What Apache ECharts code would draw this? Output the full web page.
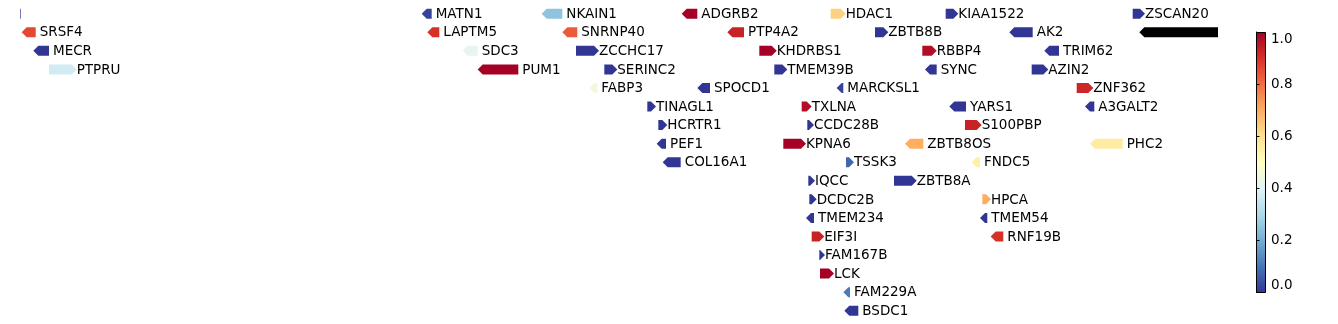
<!DOCTYPE html>
<html>
<head>
<meta charset="utf-8">
<script src="https://cdn.jsdelivr.net/npm/echarts@6/dist/echarts.min.js"></script>
<style>
html,body{margin:0;padding:0;background:#fff;}
#chart{width:1338px;height:324px;}
</style>
</head>
<body>
<div id="chart"></div>
<script>
// ---- data (positions in kb along the region) ----
const geneNames  = ['', 'MATN1','NKAIN1','ADGRB2','HDAC1','KIAA1522','ZSCAN20',
  'SRSF4','LAPTM5','SNRNP40','PTP4A2','ZBTB8B','AK2','',
  'MECR','SDC3','ZCCHC17','KHDRBS1','RBBP4','TRIM62',
  'PTPRU','PUM1','SERINC2','TMEM39B','SYNC','AZIN2',
  'FABP3','SPOCD1','MARCKSL1','ZNF362',
  'TINAGL1','TXLNA','YARS1','A3GALT2',
  'HCRTR1','CCDC28B','S100PBP',
  'PEF1','KPNA6','ZBTB8OS','PHC2',
  'COL16A1','TSSK3','FNDC5',
  'IQCC','ZBTB8A',
  'DCDC2B','HPCA',
  'TMEM234','TMEM54',
  'EIF3I','RNF19B',
  'FAM167B','LCK','FAM229A','BSDC1'];
const geneStart  = [-6, 401.7,521.7,661.7,810.7,925.7,1112.7,
  1.7,407.3,542.3,707.3,855,989.3,1119.3,
  13.3,442.7,556,739.3,902.3,1024.3,
  29,457.7,584.3,754.3,905,1011.7,
  569.3,677.3,816.7,1056.7,
  627.3,781.7,929.3,1065,
  638.3,787.3,945,
  636.7,763.3,885,1070,
  642.7,826,951.7,
  788.3,874,
  789.3,962.3,
  786,960,
  791.7,970.7,
  799.3,800,823.3,824.3];
const geneEnd    = [0.7, 411.7,542.3,677.3,825.7,938.3,1125,
  15.7,419.3,557.3,724,868.3,1012.7,1215,
  29,457.7,579,756.7,916.7,1039,
  56.7,498.3,597.3,767.3,916.7,1028.3,
  577.3,690,823.3,1073.3,
  636,791.7,946,1074.3,
  647.3,794,961.7,
  646,786,903.3,1102.7,
  660.7,834,960,
  795,896.7,
  796.7,971,
  794,967.3,
  804.3,983.3,
  805,814,830,838.3];
const geneStrand = [-1, -1,-1,-1,1,1,1,
  -1,-1,-1,-1,1,-1,-1,
  -1,-1,1,1,1,-1,
  1,-1,1,1,-1,1,
  -1,-1,-1,1,
  1,1,-1,-1,
  1,1,1,
  -1,1,-1,-1,
  -1,1,-1,
  1,1,
  1,1,
  -1,-1,
  1,-1,
  1,1,-1,-1];
const geneValue  = [0.02, 0.02,0.25,1.0,0.63,0.0,0.0,
  0.86,0.9,0.83,0.93,0.0,0.0,null,
  0.0,0.42,0.0,1.0,0.97,0.0,
  0.37,1.0,0.0,0.0,0.0,0.0,
  0.45,0.0,0.02,0.92,
  0.0,0.97,0.0,0.0,
  0.0,0.0,0.93,
  0.0,1.0,0.7,0.56,
  0.0,0.08,0.55,
  0.0,0.0,
  0.0,0.7,
  0.0,0.0,
  0.93,0.9,
  0.0,1.0,0.11,0.0];
const geneRow    = [1,1,1,1,1,1,1,
  2,2,2,2,2,2,2,
  3,3,3,3,3,3,
  4,4,4,4,4,4,
  5,5,5,5,
  6,6,6,6,
  7,7,7,
  8,8,8,8,
  9,9,9,
  10,10,
  11,11,
  12,12,
  13,13,
  14,15,16,17];

// RdYlBu_r colormap
const cmapStops = ['#313695','#4575b4','#74add1','#abd9e9','#e0f3f8','#ffffbf','#fee090','#fdae61','#f46d43','#d73027','#a50026'];
function hex2rgb(h){return [parseInt(h.slice(1,3),16),parseInt(h.slice(3,5),16),parseInt(h.slice(5,7),16)];}
function cmap(v){
  if (v === null || v === undefined || isNaN(v)) return '#000000';
  v = Math.max(0, Math.min(1, v));
  const t = v * (cmapStops.length - 1);
  const i = Math.min(Math.floor(t), cmapStops.length - 2);
  const f = t - i;
  const a = hex2rgb(cmapStops[i]), b = hex2rgb(cmapStops[i+1]);
  const c = a.map((x, k) => Math.round(x + (b[k] - x) * f));
  return 'rgb(' + c.join(',') + ')';
}

const seriesData = geneNames.map((n, i) => [geneStart[i], geneEnd[i], geneRow[i], geneStrand[i], i]);

const chart = echarts.init(document.getElementById('chart'), null, {renderer: 'canvas'});
const option = {
  animation: false,
  backgroundColor: '#ffffff',
  grid: [
    {left: 20, right: 120, top: 4.4, bottom: 4.0, containLabel: false},
    {left: 1256, width: 9, top: 32, height: 260}
  ],
  xAxis: [
    {type: 'value', min: 0, max: 1198, show: false, gridIndex: 0},
    {type: 'value', min: 0, max: 1, show: false, gridIndex: 1}
  ],
  yAxis: [
    {type: 'value', min: 0.5, max: 17.5, inverse: true, show: false, gridIndex: 0},
    {type: 'value', min: 0, max: 1, interval: 0.2, gridIndex: 1, position: 'right',
     axisLine: {show: true, lineStyle: {color: '#000', width: 1}},
     axisTick: {show: true, length: 3.5, lineStyle: {color: '#000', width: 1}},
     splitLine: {show: false},
     axisLabel: {show: true, color: '#000', fontSize: 13.5, fontFamily: 'DejaVu Sans', margin: 6,
       verticalAlignMaxLabel: 'top', verticalAlignMinLabel: 'bottom',
       formatter: v => v.toFixed(1)}
    }
  ],
  graphic: [{
    type: 'rect', left: 1256, top: 32, z: -1,
    shape: {width: 9, height: 260},
    style: {
      fill: new echarts.graphic.LinearGradient(0, 0, 0, 1,
        cmapStops.slice().reverse().map((c, i) => ({offset: i / (cmapStops.length - 1), color: c}))),
      stroke: '#000', lineWidth: 1
    }
  }],
  series: [{
    type: 'custom',
    xAxisIndex: 0, yAxisIndex: 0,
    clip: true,
    data: seriesData,
    renderItem: function (params, api) {
      const s = api.value(0), e = api.value(1), row = api.value(2), strand = api.value(3), idx = api.value(4);
      const p0 = api.coord([s, row]), p1 = api.coord([e, row]);
      const x0 = p0[0], x1 = p1[0], y = p0[1], hh = 5;
      const head = Math.min(5, x1 - x0);
      let pts;
      if (strand > 0) pts = [[x0, y-hh], [x1-head, y-hh], [x1, y], [x1-head, y+hh], [x0, y+hh]];
      else pts = [[x1, y-hh], [x0+head, y-hh], [x0, y], [x0+head, y+hh], [x1, y+hh]];
      const color = cmap(geneValue[idx]);
      return {
        type: 'group',
        children: [
          {type: 'polygon', shape: {points: pts}, style: {fill: color}},
          {type: 'text', x: x1 + (strand > 0 ? 0 : 4), y: y + 0.7,
           style: {text: geneNames[idx], fill: '#000', fontSize: 13.5, fontFamily: 'DejaVu Sans',
                   verticalAlign: 'middle', align: 'left'}}
        ]
      };
    }
  }]
};
chart.setOption(option);
</script>
</body>
</html>
